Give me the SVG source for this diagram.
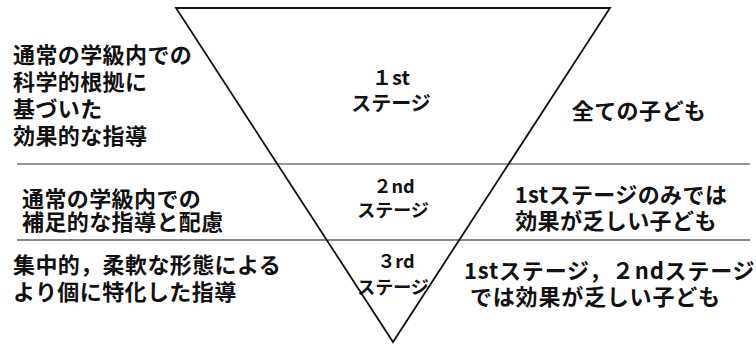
<svg xmlns="http://www.w3.org/2000/svg" width="756" height="345" viewBox="0 0 756 345">
<style>
text{font-family:"Noto Sans CJK JP","Noto Sans",sans-serif;font-weight:700;fill:#111;}
.l{font-size:22px;letter-spacing:0.4px;}
.c1{font-size:20px;text-anchor:middle;}
.c2{font-size:18px;text-anchor:middle;}
.m{text-anchor:middle;}
</style>
<rect width="756" height="345" fill="#fff"/>
<g id="connectors">
<line x1="17" y1="164" x2="750" y2="164" stroke="#777" stroke-width="1.5"/>
<line x1="17" y1="240" x2="750" y2="240" stroke="#111" stroke-width="1.2"/>
</g>
<g id="triangle">
<polygon points="176,8 610,8 393,342" fill="none" stroke="#111" stroke-width="1.8"/>
</g>
<g id="stage1-left">
<text class="l" x="13" y="63"><tspan x="13" y="63">通常の学級内での</tspan><tspan x="13" y="90">科学的根拠に</tspan><tspan x="13" y="117">基づいた</tspan><tspan x="13" y="144">効果的な指導</tspan></text>
</g>
<g id="stage1-center">
<text class="c1" x="391" y="85"><tspan x="391" y="85">１st</tspan><tspan x="391" y="111">ステージ</tspan></text>
</g>
<g id="stage1-right">
<text class="l m" x="639" y="119">全ての子ども</text>
</g>
<g id="stage2-left">
<text class="l" x="22" y="207"><tspan x="22" y="207">通常の学級内での</tspan><tspan x="22" y="230">補足的な指導と配慮</tspan></text>
</g>
<g id="stage2-center">
<text class="c2" x="394" y="193"><tspan x="394" y="193">２nd</tspan><tspan x="393" y="217">ステージ</tspan></text>
</g>
<g id="stage2-right">
<text class="l m" x="621" y="203"><tspan x="621" y="203">1stステージのみでは</tspan><tspan x="616" y="229">効果が乏しい子ども</tspan></text>
</g>
<g id="stage3-left">
<text class="l" x="13" y="273"><tspan x="13" y="273">集中的，柔軟な形態による</tspan><tspan x="13" y="300">より個に特化した指導</tspan></text>
</g>
<g id="stage3-center">
<text class="c2" x="396" y="268"><tspan x="396" y="268">３rd</tspan><tspan x="393" y="294">ステージ</tspan></text>
</g>
<g id="stage3-right">
<text class="l" x="464" y="279" style="letter-spacing:0.8px"><tspan x="464" y="279">1stステージ，２ndステージ</tspan><tspan x="470" y="305">では効果が乏しい子ども</tspan></text>
</g>
</svg>
